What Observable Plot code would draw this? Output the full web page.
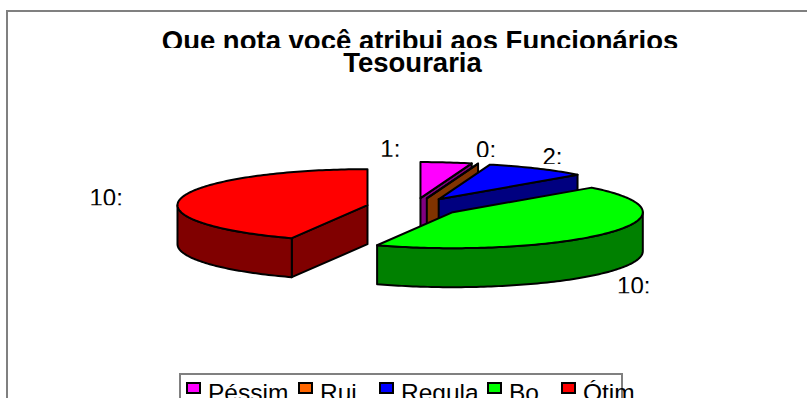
<!DOCTYPE html>
<html><head><meta charset="utf-8">
<style>
html,body{margin:0;padding:0;background:#fff}
#page{position:relative;width:807px;height:398px;overflow:hidden;font-family:"Liberation Sans",Arial,sans-serif;color:#000}
#frame{position:absolute;left:6px;top:10px;right:-4px;bottom:-4px;border:2px solid #808080;box-sizing:border-box;background:#fff}
#chart{position:absolute;left:0;top:0}
.tl{position:absolute;left:0;width:840px;text-align:center;font-weight:bold;font-size:27.5px;overflow:hidden;white-space:nowrap}
#t1{top:26px;height:22px;line-height:30px}
#t2{top:48px;height:26px;line-height:30px;width:825px}
#legend{position:absolute;left:179px;top:373px;width:444px;height:40px;border:2px solid #808080;box-sizing:border-box;background:#fff}
.li{position:absolute;top:0;height:40px;white-space:nowrap;font-size:24.5px;line-height:28px}
.sw{position:absolute;left:0;top:7px;width:11px;height:8px;border:2px solid #000;box-sizing:content-box}
.lt{position:absolute;left:22px;top:4px}
.vlabel text{clip-path:inset(0 0 21% 0)}
</style>
<script src="https://cdn.jsdelivr.net/npm/d3@7"></script>
<script src="https://cdn.jsdelivr.net/npm/@observablehq/plot@0.6"></script>
</head><body>
<div id="page">
  <div id="frame"></div>
  <div id="slot"></div>
  <div id="t1" class="tl"></div>
  <div id="t2" class="tl"></div>
  <div id="legend"></div>
</div>
<script>
const titleLines = ["Que nota você atribui aos Funcionários", "Tesouraria"];
const categories = ["Péssim", "Rui", "Regula", "Bo", "Ótim"];
const values = [1, 0, 2, 10, 10];
const topColors = ["#FF00FF", "#FF6600", "#0000FF", "#00FF00", "#FF0000"];
const sideColors = ["#800080", "#803300", "#000080", "#008000", "#800000"];

// layout of the pie and of its annotations, in page pixels
const W = 807, H = 398;
const pie3d = {cx: 413.5, cy: 206.5, rx: 190, ry: 36, depth: 39, explode: 0.25};
const labelNudge = [[-66, -5], [-2, -6], [5, -4], [9, 61], [-92, 8]];
const legendLefts = [5, 117, 198, 306, 380];

const arcs = d3.pie().sort(null).value(d => d)(values);
const TAU = Math.PI * 2;
const rim = a => [Math.sin(a) * pie3d.rx, -Math.cos(a) * pie3d.ry];

const faces = [];
function addFace(id, color, pts) {
  pts.forEach(([x, y]) => faces.push({id, color, x, y}));
}
function arcPts(a0, a1) {
  const n = Math.max(1, Math.ceil((a1 - a0) / 0.02));
  return d3.range(n + 1).map(i => rim(a0 + (a1 - a0) * i / n));
}
const labels = [];
arcs.forEach((s, i) => {
  const mid = (s.startAngle + s.endAngle) / 2;
  const [ex, ey] = rim(mid).map(v => v * pie3d.explode);
  const ox = pie3d.cx + ex, oy = pie3d.cy + ey, d = pie3d.depth;
  const at = ([x, y], dz = 0) => [ox + x, oy + y + dz];
  const cut = a => {
    const p = rim(a);
    addFace(`${i}-cut-${a}`, sideColors[i], [at([0, 0]), at(p), at(p, d), at([0, 0], d)]);
  };
  // cut faces that look towards the viewer
  if (s.endAngle > 0 && s.endAngle < Math.PI) cut(s.endAngle);
  if (s.startAngle > Math.PI && s.startAngle < TAU) cut(s.startAngle);
  // outer wall: the part of the rim on the front half of the ellipse
  const w0 = Math.max(s.startAngle, Math.PI / 2), w1 = Math.min(s.endAngle, Math.PI * 1.5);
  if (w1 > w0) {
    const a = arcPts(w0, w1);
    addFace(`${i}-wall`, sideColors[i], [...a.map(p => at(p)), ...a.reverse().map(p => at(p, d))]);
  }
  // top face
  addFace(`${i}-top`, topColors[i], [at([0, 0]), ...arcPts(s.startAngle, s.endAngle).map(p => at(p))]);
  const r = rim(mid);
  labels.push({text: `${values[i]}:`, x: ox + r[0] + labelNudge[i][0], y: oy + r[1] + labelNudge[i][1]});
});

const chart = Plot.plot({
  width: W, height: H,
  margin: 0,
  style: {background: "transparent"},
  x: {domain: [0, W], range: [0, W], axis: null},
  y: {domain: [0, H], range: [0, H], axis: null},
  color: {type: "identity"},
  marks: [
    Plot.line(faces, {x: "x", y: "y", z: "id", fill: "color", stroke: "#000", strokeWidth: 2,
      strokeLinejoin: "round", curve: "linear-closed"}),
    Plot.text(labels, {x: "x", y: "y", text: "text", textAnchor: "start", lineAnchor: "bottom",
      fontSize: 24, fontFamily: "Liberation Sans, Arial, sans-serif", fill: "#000", className: "vlabel"})
  ]
});
chart.id = "chart";
document.getElementById("slot").appendChild(chart);

document.getElementById("t1").textContent = titleLines[0];
document.getElementById("t2").textContent = titleLines[1];
const legend = document.getElementById("legend");
categories.forEach((c, i) => {
  const item = document.createElement("div");
  item.className = "li";
  item.style.left = legendLefts[i] + "px";
  item.innerHTML = `<span class="sw" style="background:${topColors[i]}"></span><span class="lt"></span>`;
  item.querySelector(".lt").textContent = c;
  legend.appendChild(item);
});
</script>
</body></html>
